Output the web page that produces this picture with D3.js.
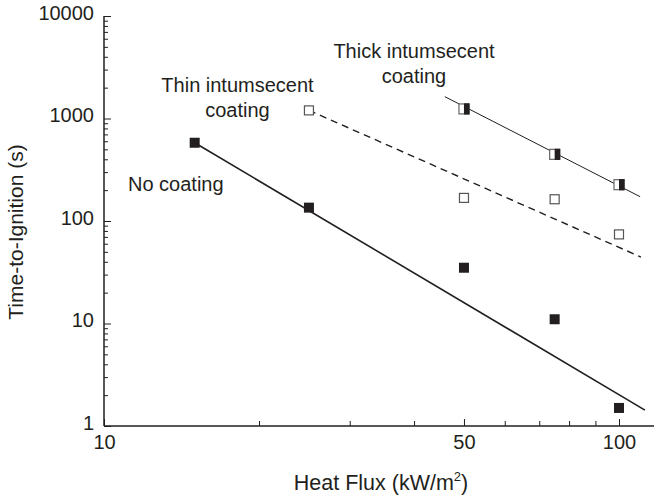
<!DOCTYPE html>
<html>
<head>
<meta charset="utf-8">
<script src="https://cdn.jsdelivr.net/npm/d3@7"></script>
<style>
  html, body { margin: 0; padding: 0; background: #fff; }
  svg { display: block; }
  text { font-family: "Liberation Sans", Arial, Helvetica, sans-serif; fill: #231f20; }
</style>
</head>
<body>
<svg id="chart" width="654" height="499"></svg>
<script>
// ---- data ----
const noCoatingFlux = [15, 25, 50, 75, 100];
const noCoatingTime = [580, 135, 35, 11, 1.5];
const thinFlux = [25, 50, 75, 100];
const thinTime = [1200, 168, 163, 74];
const thickFlux = [50, 75, 100];
const thickTime = [1240, 447, 226];

// fitted power-law lines (end points)
const noCoatingFitFlux = [15, 112.3];
const noCoatingFitTime = [580, 1.43];
const thinFitFlux = [25, 110.3];
const thinFitTime = [1200, 44.5];
const thickFitFlux = [45.9, 109.9];
const thickFitTime = [1633, 172.6];

const xMajorTicks = [10, 50, 100];
const xMinorTicks = [20, 30, 40, 60, 70, 80, 90];
const yMajorTicks = [1, 10, 100, 1000, 10000];
const yMinorTicks = [];
[1, 10, 100, 1000].forEach(d => { for (let k = 2; k <= 9; k++) yMinorTicks.push(d * k); });

// ---- chart ----
const ink = "#231f20";
const svg = d3.select("#chart");
const x = d3.scaleLog().domain([10, 118]).range([104, 104 + 515 * Math.log10(11.8)]);
const y = d3.scaleLog().domain([1, 10000]).range([426, 16]);

const xAxisMajor = d3.axisBottom(x).tickValues(xMajorTicks).tickSize(-7).tickPadding(9)
  .tickFormat(d3.format("d"));
const xAxisMinor = d3.axisBottom(x).tickValues(xMinorTicks).tickSize(-5).tickFormat("");
const yAxisMajor = d3.axisLeft(y).tickValues(yMajorTicks).tickSize(-7).tickPadding(10)
  .tickFormat(d3.format("d"));
const yAxisMinor = d3.axisLeft(y).tickValues(yMinorTicks).tickSize(-4).tickFormat("");

function styleAxis(g) {
  g.selectAll("path").attr("stroke", ink).attr("stroke-width", 1.5);
  g.selectAll("line").attr("stroke", ink).attr("stroke-width", 1);
  g.selectAll("text").attr("fill", ink).style("font-size", "20px")
    .style("font-family", "'Liberation Sans', Arial, sans-serif");
}

const gx = svg.append("g").attr("transform", `translate(0,${y(1)})`);
gx.call(xAxisMajor); styleAxis(gx);
gx.selectAll("path").attr("d", `M${x.range()[0]},0H${x.range()[1]}`);
gx.selectAll("text").attr("dy", "0.71em");
const gxm = svg.append("g").attr("transform", `translate(0,${y(1)})`);
gxm.call(xAxisMinor); styleAxis(gxm); gxm.select("path").remove();

const gy = svg.append("g").attr("transform", `translate(${x(10)},0)`);
gy.call(yAxisMajor); styleAxis(gy);
gy.selectAll("path").attr("d", `M0,${y.range()[0]}V${y.range()[1]}`);
gy.selectAll("text").attr("dy", "0.17em");
const gym = svg.append("g").attr("transform", `translate(${x(10)},0)`);
gym.call(yAxisMinor); styleAxis(gym); gym.select("path").remove();

// axis titles
svg.append("text")
  .attr("transform", `translate(23,232) rotate(-90)`)
  .attr("text-anchor", "middle")
  .style("font-size", "21px")
  .text("Time-to-Ignition (s)");

const xt = svg.append("text")
  .attr("x", 381).attr("y", 490)
  .attr("text-anchor", "middle")
  .style("font-size", "21.5px");
xt.append("tspan").text("Heat Flux (kW/m");
xt.append("tspan").attr("dy", -9).style("font-size", "13px").text("2");
xt.append("tspan").attr("dy", 9).text(")");

// fit lines
const line = d3.line().x(d => x(d[0])).y(d => y(d[1]));
svg.append("path").datum(d3.zip(noCoatingFitFlux, noCoatingFitTime))
  .attr("d", line).attr("fill", "none").attr("stroke", ink).attr("stroke-width", 1.6);
svg.append("path").datum(d3.zip(thinFitFlux, thinFitTime))
  .attr("d", line).attr("fill", "none").attr("stroke", ink).attr("stroke-width", 1.4)
  .attr("stroke-dasharray", "7,5");
svg.append("path").datum(d3.zip(thickFitFlux, thickFitTime))
  .attr("d", line).attr("fill", "none").attr("stroke", ink).attr("stroke-width", 1);

// markers
const s = 10;
svg.append("g").selectAll("rect").data(d3.zip(noCoatingFlux, noCoatingTime)).join("rect")
  .attr("x", d => x(d[0]) - s / 2).attr("y", d => y(d[1]) - s / 2)
  .attr("width", s).attr("height", s).attr("fill", ink);

const so = 9;
svg.append("g").selectAll("rect").data(d3.zip(thinFlux, thinTime)).join("rect")
  .attr("x", d => x(d[0]) - so / 2).attr("y", d => y(d[1]) - so / 2)
  .attr("width", so).attr("height", so).attr("fill", "#fff")
  .attr("stroke", "#555").attr("stroke-width", 1.2);

const half = svg.append("g").selectAll("g").data(d3.zip(thickFlux, thickTime)).join("g")
  .attr("transform", d => `translate(${x(d[0])},${y(d[1])})`);
half.append("rect").attr("x", -s / 2).attr("y", -s / 2).attr("width", s).attr("height", s)
  .attr("fill", "#fff").attr("stroke", "#666").attr("stroke-width", 1.2);
half.append("rect").attr("x", 0).attr("y", -s / 2 - 0.6).attr("width", s / 2 + 0.6).attr("height", s + 1.2)
  .attr("fill", ink);

// annotations
function label(lines, cx, baseline) {
  const t = svg.append("text").attr("text-anchor", "middle").style("font-size", "20px");
  lines.forEach((l, i) => t.append("tspan").attr("x", cx).attr("y", baseline + i * 25).text(l));
}
label(["Thick intumsecent", "coating"], 414, 58);
label(["Thin intumsecent", "coating"], 237.5, 92);
svg.append("text").attr("x", 128).attr("y", 191).style("font-size", "20px").text("No coating");
</script>
</body>
</html>
